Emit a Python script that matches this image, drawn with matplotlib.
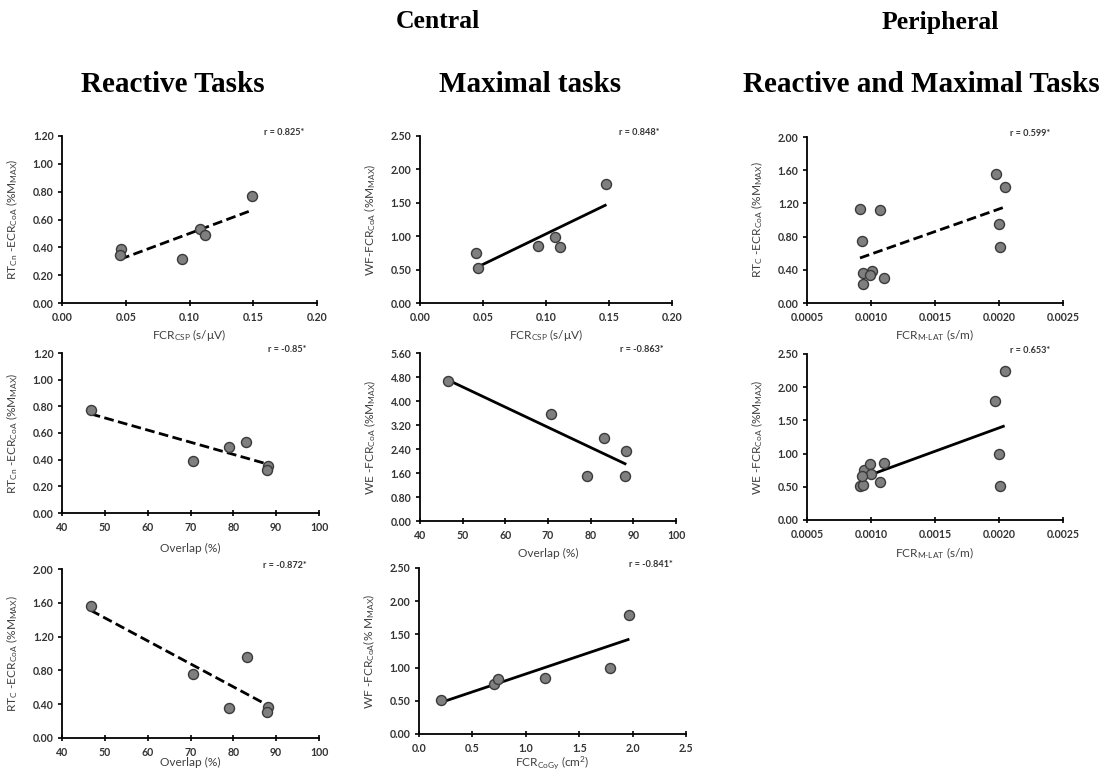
import numpy as np
import matplotlib.pyplot as plt

plt.rcParams['font.family'] = ['Lato', 'DejaVu Sans']
plt.rcParams['mathtext.fontset'] = 'custom'
plt.rcParams['mathtext.rm'] = 'Lato'
plt.rcParams['mathtext.it'] = 'Lato:italic'
plt.rcParams['mathtext.bf'] = 'Lato:bold'

# central, reactive tasks
fcr_csp_a = [0.0464, 0.0456, 0.0943, 0.1080, 0.1120, 0.1490]
rtcn_csp = [0.386, 0.347, 0.319, 0.532, 0.491, 0.771]
overlap_a = [46.7, 70.6, 78.9, 83.0, 88.2, 87.9]
rtcn_overlap = [0.776, 0.389, 0.495, 0.535, 0.349, 0.319]
overlap_c = [46.7, 70.7, 79.0, 83.2, 88.2, 87.9]
rtc_overlap = [1.567, 0.752, 0.350, 0.953, 0.366, 0.307]

# central, maximal tasks
fcr_csp_b = [0.0446, 0.0457, 0.0934, 0.1075, 0.1110, 0.1480]
wf_csp = [0.755, 0.525, 0.850, 0.995, 0.840, 1.785]
overlap_b = [46.5, 70.7, 79.1, 83.2, 88.35, 88.0]
we_overlap = [4.654, 3.583, 1.484, 2.779, 2.344, 1.484]
fcr_cogy = [0.203, 0.700, 0.7375, 1.184, 1.7875, 1.970]
wf_cogy = [0.517, 0.758, 0.833, 0.848, 0.999, 1.787]

# peripheral, reactive and maximal tasks
fcr_mlat_a = [0.000914, 0.00107, 0.000932, 0.001005, 0.00094, 0.000992,
              0.000937, 0.001099, 0.001974, 0.002047, 0.0020, 0.002008]
rtc_mlat = [1.137, 1.120, 0.743, 0.390, 0.357, 0.341,
            0.229, 0.301, 1.558, 1.398, 0.948, 0.675]
fcr_mlat_b = [0.002044, 0.001971, 0.0020, 0.002008, 0.000911, 0.000935,
              0.000943, 0.00099, 0.001003, 0.00093, 0.00107, 0.001102]
we_mlat = [2.240, 1.794, 0.997, 0.511, 0.516, 0.521,
           0.751, 0.837, 0.691, 0.661, 0.576, 0.852]

r_labels = ['r = 0.825*', 'r = 0.848*', 'r = 0.599*',
            'r = -0.85*', 'r = -0.863*', 'r = 0.653*',
            'r = -0.872*', 'r = -0.841*']

W, H = 1108, 773
fig = plt.figure(figsize=(W / 100, H / 100), dpi=100)


def add_axes(x0, x1, ytop, ybot):
    return fig.add_axes([x0 / W, 1 - ybot / H, (x1 - x0) / W, (ybot - ytop) / H])


def panel(ax, x, y, dashed, r, xlim, xticks, xfmt, ylim, yticks, yfmt,
          xlabel, ylabel, xlab_off=32):
    x = np.array(x)
    y = np.array(y)
    slope, icpt = np.polyfit(x, y, 1)
    xs = np.array([x.min(), x.max()])
    ls = (0, (3.5, 1.6)) if dashed else '-'
    ax.plot(xs, slope * xs + icpt, color='black', lw=2.0, ls=ls, zorder=2,
            solid_capstyle='butt', dash_capstyle='butt')
    ax.scatter(x, y, s=52, color='#7f7f7f', edgecolor='#3a3a3a', lw=1.0, zorder=3)
    ax.set_xlim(*xlim)
    ax.set_ylim(*ylim)
    ax.set_xticks(xticks)
    ax.set_yticks(yticks)
    ax.set_xticklabels([xfmt.format(v) for v in xticks], fontsize=7.6, fontweight='bold', color='#333333')
    ax.set_yticklabels([yfmt.format(v) for v in yticks], fontsize=7.6, fontweight='bold', color='#333333')
    for s in ['top', 'right']:
        ax.spines[s].set_visible(False)
    for s in ['left', 'bottom']:
        ax.spines[s].set_linewidth(1.3)
    ax.tick_params(axis='x', direction='inout', length=5, width=1.2, pad=4)
    ax.tick_params(axis='y', direction='out', length=3, width=1.2, pad=3)
    ax.set_xlabel(xlabel, fontsize=8.6, color='#404040', va='center')
    ax.set_ylabel(ylabel, fontsize=8.6, color='#404040', va='center')
    h = ax.get_position().height * H
    w = ax.get_position().width * W
    ax.xaxis.set_label_coords(0.5, -xlab_off / h)
    ax.yaxis.set_label_coords(-50 / w, 0.5)
    ax.text(0.95, 1.02, r, transform=ax.transAxes, ha='right', va='center',
            fontsize=6.6, fontweight='bold', color='#333333')


csp_ticks = [0.0, 0.05, 0.10, 0.15, 0.20]
ov_ticks = [40, 50, 60, 70, 80, 90, 100]
mlat_ticks = [0.0005, 0.0010, 0.0015, 0.0020, 0.0025]
cogy_ticks = [0.0, 0.5, 1.0, 1.5, 2.0, 2.5]

lbl_csp = r'FCR$_{\mathregular{CSP}}$ (s/$\mathregular{\mu}$V)'
lbl_mlat = r'FCR$_{\mathregular{M\text{-}LAT}}$ (s/m)'
lbl_ov = 'Overlap (%)'
lbl_cogy = r'FCR$_{\mathregular{CoGy}}$ (cm$^{\mathregular{2}}$)'

ax1 = add_axes(62, 317, 136, 303)
panel(ax1, fcr_csp_a, rtcn_csp, True, r_labels[0], (0, 0.2), csp_ticks, '{:.2f}',
      (0, 1.2), np.arange(0, 1.21, 0.2), '{:.2f}', lbl_csp,
      r'RT$_{\mathregular{Cn}}$ -ECR$_{\mathregular{CoA}}$ (%M$_{\mathregular{MAX}}$)')

ax2 = add_axes(420, 672, 136, 303)
panel(ax2, fcr_csp_b, wf_csp, False, r_labels[1], (0, 0.2), csp_ticks, '{:.2f}',
      (0, 2.5), np.arange(0, 2.51, 0.5), '{:.2f}', lbl_csp,
      r'WF-FCR$_{\mathregular{CoA}}$ (%M$_{\mathregular{MAX}}$)')

ax3 = add_axes(807, 1063, 137, 303)
panel(ax3, fcr_mlat_a, rtc_mlat, True, r_labels[2], (0.0005, 0.0025), mlat_ticks, '{:.4f}',
      (0, 2.0), np.arange(0, 2.01, 0.4), '{:.2f}', lbl_mlat,
      r'RT$_{\mathregular{C}}$ -ECR$_{\mathregular{CoA}}$ (%M$_{\mathregular{MAX}}$)')

ax4 = add_axes(62, 319, 353, 513)
panel(ax4, overlap_a, rtcn_overlap, True, r_labels[3], (40, 100), ov_ticks, '{:d}',
      (0, 1.2), np.arange(0, 1.21, 0.2), '{:.2f}', lbl_ov,
      r'RT$_{\mathregular{Cn}}$ -ECR$_{\mathregular{CoA}}$ (%M$_{\mathregular{MAX}}$)', 35)

ax5 = add_axes(420, 676, 353, 521)
panel(ax5, overlap_b, we_overlap, False, r_labels[4], (40, 100), ov_ticks, '{:d}',
      (0, 5.6), np.arange(0, 5.61, 0.8), '{:.2f}', lbl_ov,
      r'WE -FCR$_{\mathregular{CoA}}$ (%M$_{\mathregular{MAX}}$)', 32)

ax6 = add_axes(807, 1063, 354, 520)
panel(ax6, fcr_mlat_b, we_mlat, False, r_labels[5], (0.0005, 0.0025), mlat_ticks, '{:.4f}',
      (0, 2.5), np.arange(0, 2.51, 0.5), '{:.2f}', lbl_mlat,
      r'WE -FCR$_{\mathregular{CoA}}$ (%M$_{\mathregular{MAX}}$)', 33)

ax7 = add_axes(62, 319, 569, 738)
panel(ax7, overlap_c, rtc_overlap, True, r_labels[6], (40, 100), ov_ticks, '{:d}',
      (0, 2.0), np.arange(0, 2.01, 0.4), '{:.2f}', lbl_ov,
      r'RT$_{\mathregular{C}}$ -ECR$_{\mathregular{CoA}}$ (%M$_{\mathregular{MAX}}$)', 24)

ax8 = add_axes(419, 686, 568, 734)
panel(ax8, fcr_cogy, wf_cogy, False, r_labels[7], (0, 2.5), cogy_ticks, '{:.1f}',
      (0, 2.5), np.arange(0, 2.51, 0.5), '{:.2f}', lbl_cogy,
      r'WF -FCR$_{\mathregular{CoA}}$(% M$_{\mathregular{MAX}}$)', 29)

# column headers
hdr = dict(family=['Liberation Serif'], fontweight='bold',
           ha='center', va='center', color='black')
fig.text(438 / W, 1 - 22 / H, 'Central', fontsize=18.5, **hdr)
fig.text(940 / W, 1 - 22 / H, 'Peripheral', fontsize=18.5, **hdr)
fig.text(173 / W, 1 - 84 / H, 'Reactive Tasks', fontsize=21, **hdr)
fig.text(530 / W, 1 - 84 / H, 'Maximal tasks', fontsize=21, **hdr)
fig.text(921 / W, 1 - 84 / H, 'Reactive and Maximal Tasks', fontsize=21, **hdr)

fig.savefig('out.png', dpi=100)
